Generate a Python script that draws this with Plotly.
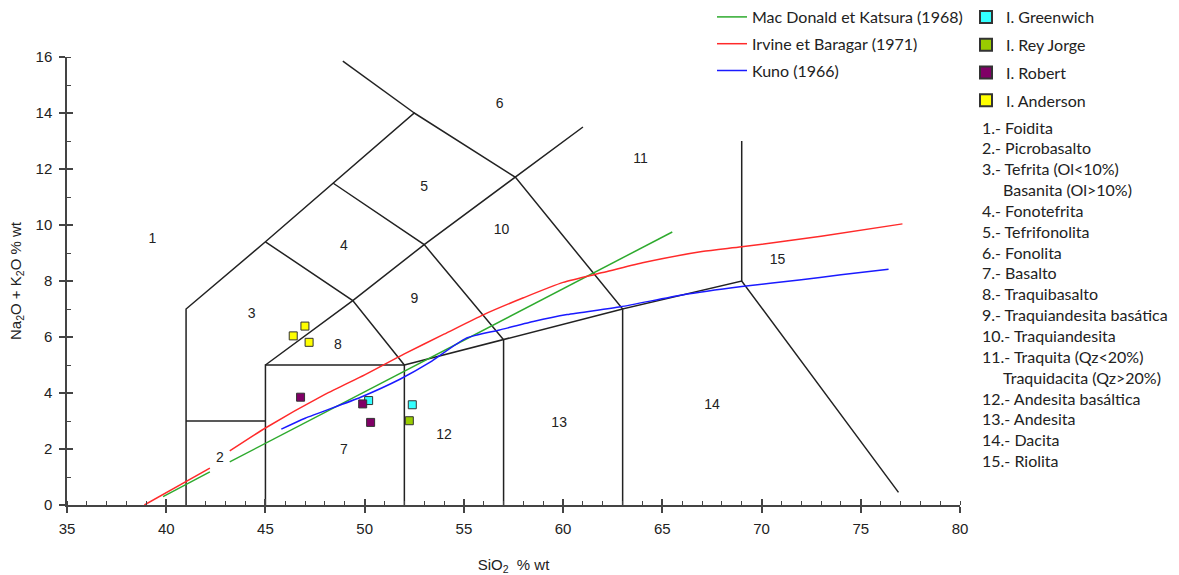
import plotly.graph_objects as go

# ---------------- data ----------------
# TAS field boundaries (SiO2, Na2O+K2O) as separate polylines
bnd_outer_x = [41, 41, 45, 48.4, 52.5, 57.6, 63, 69, 76.9]
bnd_outer_y = [0, 7, 9.4, 11.5, 14, 11.7, 7, 8, 0.45]
bnd_segments = [
    ([41, 45], [3, 3]),
    ([45, 45, 52, 52], [0, 5, 5, 0]),
    ([45, 49.4, 53, 57.6, 61], [5, 7.3, 9.3, 11.7, 13.5]),
    ([45, 49.4, 52], [9.4, 7.3, 5]),
    ([48.4, 53, 57, 57], [11.5, 9.3, 5.9, 0]),
    ([52, 57, 63], [5, 5.9, 7]),
    ([63, 63], [0, 7]),
    ([69, 69], [8, 13]),
    ([52.5, 48.9], [14, 15.85]),
]

# Field numbers
field_labels = ["1", "2", "3", "4", "5", "6", "7", "8", "9", "10", "11", "12", "13", "14", "15"]
field_x = [39.3, 42.7, 44.3, 48.95, 53.0, 56.8, 48.95, 48.65, 52.5, 56.9, 63.9, 54.0, 59.8, 67.5, 70.8]
field_y = [9.5, 1.65, 6.8, 9.25, 11.35, 14.3, 1.95, 5.7, 7.35, 9.8, 12.35, 2.5, 2.9, 3.55, 8.75]

# Alkaline / subalkaline dividing lines (None = gap around label 2)
macdonald_x = [39.84, 42.2, None, 43.2, 65.5]
macdonald_y = [0.3, 1.18, None, 1.54, 9.75]
irvine_x = [38.9, 42.2, None, 43.2, 45, 48, 50, 52, 54, 56, 58, 60, 62, 64, 67, 69, 73, 77.1]
irvine_y = [0, 1.32, None, 1.93, 2.75, 3.95, 4.65, 5.4, 6.1, 6.8, 7.4, 7.95, 8.3, 8.65, 9.05, 9.22, 9.6, 10.04]
kuno_x = [45.8, 47, 49.8, 51.8, 53.3, 55.1, 56.8, 58.5, 60.2, 62.9, 66, 69, 71.9, 74, 76.4]
kuno_y = [2.71, 3.1, 3.85, 4.5, 5.1, 5.95, 6.25, 6.55, 6.8, 7.08, 7.5, 7.8, 8.04, 8.22, 8.42]

# Samples
greenwich_x = [50.2, 52.4]
greenwich_y = [3.73, 3.58]
reyjorge_x = [52.25]
reyjorge_y = [3.01]
robert_x = [46.77, 49.9, 50.3]
robert_y = [3.85, 3.61, 2.95]
anderson_x = [46.4, 46.99, 47.2]
anderson_y = [6.04, 6.39, 5.81]

list_lines = [
    "1.- Foidita", "2.- Picrobasalto", "3.- Tefrita (Ol<10%)", "    Basanita (Ol>10%)",
    "4.- Fonotefrita", "5.- Tefrifonolita", "6.- Fonolita", "7.- Basalto",
    "8.- Traquibasalto", "9.- Traquiandesita basática", "10.- Traquiandesita",
    "11.- Traquita (Qz<20%)", "    Traquidacita (Qz>20%)", "12.- Andesita basáltica",
    "13.- Andesita", "14.- Dacita", "15.- Riolita",
]

# ---------------- figure ----------------
W, H = 1179, 575
L, R, T, B = 67, 219, 57, 70
PW, PH = W - L - R, H - T - B
fig = go.Figure()

bx, by = list(bnd_outer_x), list(bnd_outer_y)
for sx, sy in bnd_segments:
    bx += [None] + sx
    by += [None] + sy
fig.add_trace(go.Scatter(x=bx, y=by, mode="lines", line=dict(color="#222222", width=1.5),
                         showlegend=False, hoverinfo="skip"))

fig.add_trace(go.Scatter(x=field_x, y=field_y, mode="text", text=field_labels,
                         textfont=dict(family="Liberation Sans, Arial", size=14, color="#222222"),
                         showlegend=False, hoverinfo="skip"))

curve_font = dict(family="Lato, Open Sans", size=16, color="#222222")
fig.add_trace(go.Scatter(x=macdonald_x, y=macdonald_y, mode="lines", name="Mac Donald et Katsura (1968)",
                         line=dict(color="#2eaa2e", width=1.5), legend="legend", legendgroup="a"))
fig.add_trace(go.Scatter(x=irvine_x, y=irvine_y, mode="lines", name="Irvine et Baragar (1971)",
                         line=dict(color="#ff2a2a", width=1.5, shape="spline", smoothing=0.6),
                         legend="legend", legendgroup="b"))
fig.add_trace(go.Scatter(x=kuno_x, y=kuno_y, mode="lines", name="Kuno (1966)",
                         line=dict(color="#1a1aff", width=1.5, shape="spline", smoothing=0.6),
                         legend="legend", legendgroup="c"))

mk_line = dict(color="#333333", width=1)
for name, xs, ys, col, g in [
    ("I. Greenwich", greenwich_x, greenwich_y, "#33ffff", "d"),
    ("I. Rey Jorge", reyjorge_x, reyjorge_y, "#99cc00", "e"),
    ("I. Robert", robert_x, robert_y, "#800066", "f"),
    ("I. Anderson", anderson_x, anderson_y, "#ffff00", "g"),
]:
    fig.add_trace(go.Scatter(x=xs, y=ys, mode="markers", name=name,
                             marker=dict(symbol="square", size=8, color=col, line=mk_line),
                             legend="legend2", legendgroup=g))

# dummy trace for overlay axes (inner halves of major ticks)
fig.add_trace(go.Scatter(x=[None], y=[None], xaxis="x2", yaxis="y2", showlegend=False, hoverinfo="skip"))

tickfont = dict(family="Liberation Sans, Arial", size=15, color="#222222")
axcol = "#444444"
fig.update_layout(
    width=W, height=H, margin=dict(l=L, r=R, t=T, b=B, autoexpand=False),
    paper_bgcolor="white", plot_bgcolor="white",
    xaxis=dict(range=[35, 80], tick0=35, dtick=5, showgrid=False, zeroline=False,
               showline=True, linecolor=axcol, linewidth=1.5,
               ticks="outside", ticklen=6, tickwidth=1.5, tickcolor=axcol,
               minor=dict(dtick=1, ticks="inside", ticklen=4, tickwidth=1.2, tickcolor=axcol),
               tickfont=tickfont, ticklabelstandoff=3,
               title=dict(text="SiO<sub>2</sub>  % wt", font=tickfont, standoff=24)),
    yaxis=dict(range=[0, 16], tick0=0, dtick=2, showgrid=False, zeroline=False,
               showline=True, linecolor=axcol, linewidth=1.5,
               ticks="outside", ticklen=6, tickwidth=1.5, tickcolor=axcol,
               minor=dict(dtick=1, ticks="inside", ticklen=4, tickwidth=1.2, tickcolor=axcol),
               tickfont=tickfont, ticklabelstandoff=4,
               title=dict(text="Na<sub>2</sub>O + K<sub>2</sub>O % wt", font=tickfont, standoff=10)),
    xaxis2=dict(range=[35, 80], overlaying="x", anchor="y2", side="bottom", tick0=35, dtick=5,
                showgrid=False, zeroline=False, showline=False, showticklabels=False,
                ticks="inside", ticklen=6, tickwidth=1.5, tickcolor=axcol),
    yaxis2=dict(range=[0, 16], overlaying="y", anchor="x2", side="left", tick0=0, dtick=2,
                showgrid=False, zeroline=False, showline=False, showticklabels=False,
                ticks="inside", ticklen=6, tickwidth=1.5, tickcolor=axcol),
    legend=dict(x=(712 - L) / PW, y=1 + (T - 0) / PH, xanchor="left", yanchor="top",
                font=curve_font, bgcolor="rgba(0,0,0,0)", tracegroupgap=3, itemwidth=30),
    legend2=dict(x=(966 - L) / PW, y=1 + (T - 0) / PH, xanchor="left", yanchor="top",
                 font=curve_font, bgcolor="rgba(0,0,0,0)", tracegroupgap=4, itemwidth=30,
                 itemsizing="constant"),
    showlegend=True,
)

list_font = dict(family="Lato, Open Sans", size=16, color="#222222")
y0, dy = 127, 20.85
for i, t in enumerate(list_lines):
    indent = t.startswith("    ")
    fig.add_annotation(text=t.strip(), xref="paper", yref="paper",
                       x=((1001 if indent else 980) - L) / PW,
                       y=(H - B - (y0 + i * dy)) / PH,
                       xanchor="left", yanchor="middle", showarrow=False, font=list_font)

fig.write_html("out.html")
